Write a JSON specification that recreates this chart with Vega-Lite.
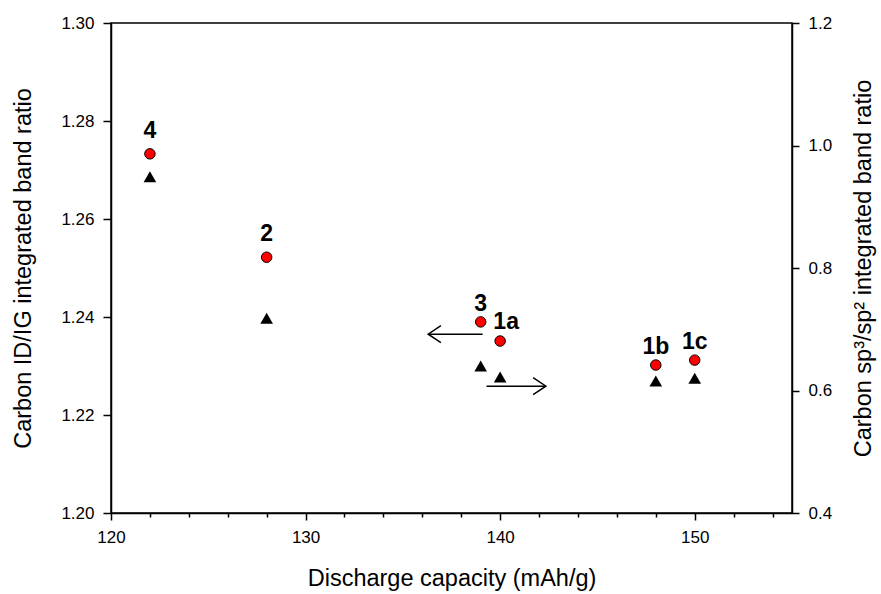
{
  "$schema": "https://vega.github.io/schema/vega-lite/v6.json",
  "width": 681,
  "height": 490,
  "autosize": {"type": "none"},
  "padding": {"left": 111, "top": 23, "right": 89, "bottom": 81},
  "datasets": {
    "samples": [
      {"sample": "4", "capacity": 122, "id_ig": 1.2733, "sp3_sp2": 0.949},
      {"sample": "2", "capacity": 128, "id_ig": 1.2522, "sp3_sp2": 0.718},
      {"sample": "3", "capacity": 139, "id_ig": 1.239, "sp3_sp2": 0.640},
      {"sample": "1a", "capacity": 140, "id_ig": 1.2351, "sp3_sp2": 0.622},
      {"sample": "1b", "capacity": 148, "id_ig": 1.2302, "sp3_sp2": 0.6155},
      {"sample": "1c", "capacity": 150, "id_ig": 1.2312, "sp3_sp2": 0.620}
    ],
    "arrows": [
      {"series": "ID/IG", "start": 139.1, "end": 136.3, "value": 1.2365},
      {"series": "sp3/sp2", "start": 139.3, "end": 142.35, "value": 0.607}
    ]
  },
  "config": {
    "font": "Liberation Sans",
    "view": {"stroke": "black", "strokeWidth": 1.5},
    "axis": {
      "grid": false,
      "domainColor": "black",
      "domainWidth": 1.5,
      "tickColor": "black",
      "tickWidth": 1.5,
      "labelColor": "black",
      "titleColor": "black",
      "labelFont": "Liberation Sans",
      "titleFont": "Liberation Sans",
      "labelFontSize": 17,
      "titleFontSize": 23.5,
      "titleFontWeight": "normal"
    }
  },
  "layer": [
    {
      "layer": [
        {
          "data": {"name": "samples"},
          "mark": {"type": "point", "shape": "circle", "filled": true, "fill": "#ff0000", "stroke": "black", "strokeWidth": 1, "size": 110, "opacity": 1},
          "encoding": {
            "x": {
              "field": "capacity", "type": "quantitative",
              "scale": {"domain": [120, 155], "nice": false, "zero": false},
              "axis": {
                "title": "Discharge capacity (mAh/g)",
                "values": [120,121,122,123,124,125,126,127,128,129,130,131,132,133,134,135,136,137,138,139,140,141,142,143,144,145,146,147,148,149,150,151,152,153,154,155],
                "labelExpr": "datum.value % 10 === 0 ? datum.label : ''",
                "labelOverlap": false,
                "labelFlush": false,
                "tickSize": {"condition": {"test": "datum.value % 10 === 0", "value": 7}, "value": 4},
                "labelPadding": 9,
                "titlePadding": 21
              }
            },
            "y": {
              "field": "id_ig", "type": "quantitative",
              "scale": {"domain": [1.2, 1.3], "nice": false, "zero": false},
              "axis": {
                "orient": "left",
                "title": "Carbon ID/IG integrated band ratio",
                "values": [1.2, 1.22, 1.24, 1.26, 1.28, 1.3],
                "format": ".2f",
                "tickSize": 8,
                "labelPadding": 9,
                "titlePadding": 25
              }
            }
          }
        },
        {
          "data": {"name": "samples"},
          "transform": [{"filter": "datum.sample === '4' || datum.sample === '2'"}],
          "mark": {"type": "text", "fontSize": 23, "fontWeight": "bold", "baseline": "alphabetic", "dy": -16, "color": "black"},
          "encoding": {
            "x": {"field": "capacity", "type": "quantitative"},
            "y": {"field": "id_ig", "type": "quantitative"},
            "text": {"field": "sample"}
          }
        },
        {
          "data": {"name": "samples"},
          "transform": [{"filter": "datum.sample === '3' || datum.sample === '1b' || datum.sample === '1c'"}],
          "mark": {"type": "text", "fontSize": 23, "fontWeight": "bold", "baseline": "alphabetic", "dy": -11, "color": "black"},
          "encoding": {
            "x": {"field": "capacity", "type": "quantitative"},
            "y": {"field": "id_ig", "type": "quantitative"},
            "text": {"field": "sample"}
          }
        },
        {
          "data": {"name": "samples"},
          "transform": [{"filter": "datum.sample === '1a'"}],
          "mark": {"type": "text", "fontSize": 23, "fontWeight": "bold", "baseline": "alphabetic", "dy": -12, "dx": 6, "color": "black"},
          "encoding": {
            "x": {"field": "capacity", "type": "quantitative"},
            "y": {"field": "id_ig", "type": "quantitative"},
            "text": {"field": "sample"}
          }
        },
        {
          "data": {"name": "arrows"},
          "transform": [{"filter": "datum.series === 'ID/IG'"}],
          "mark": {"type": "rule", "color": "black", "strokeWidth": 1.5},
          "encoding": {
            "x": {"field": "start", "type": "quantitative"},
            "x2": {"field": "end"},
            "y": {"field": "value", "type": "quantitative"}
          }
        },
        {
          "data": {"name": "arrows"},
          "transform": [{"filter": "datum.series === 'ID/IG'"}],
          "mark": {"type": "point", "shape": "M1.5,-1L0,0L1.5,1", "filled": false, "stroke": "black", "strokeWidth": 1.5, "size": 289, "opacity": 1},
          "encoding": {
            "x": {"field": "end", "type": "quantitative"},
            "y": {"field": "value", "type": "quantitative"}
          }
        }
      ]
    },
    {
      "layer": [
        {
          "data": {"name": "samples"},
          "mark": {"type": "point", "shape": "triangle-up", "filled": true, "color": "black", "size": 160, "opacity": 1},
          "encoding": {
            "x": {"field": "capacity", "type": "quantitative"},
            "y": {
              "field": "sp3_sp2", "type": "quantitative",
              "scale": {"domain": [0.4, 1.2], "nice": false, "zero": false},
              "axis": {
                "orient": "right",
                "title": "Carbon sp³/sp² integrated band ratio",
                "values": [0.4, 0.6, 0.8, 1.0, 1.2],
                "format": ".1f",
                "tickSize": 7,
                "labelPadding": 9,
                "titleAngle": -90,
                "titleBaseline": "top",
                "titlePadding": 20
              }
            }
          }
        },
        {
          "data": {"name": "arrows"},
          "transform": [{"filter": "datum.series === 'sp3/sp2'"}],
          "mark": {"type": "rule", "color": "black", "strokeWidth": 1.5},
          "encoding": {
            "x": {"field": "start", "type": "quantitative"},
            "x2": {"field": "end"},
            "y": {"field": "value", "type": "quantitative"}
          }
        },
        {
          "data": {"name": "arrows"},
          "transform": [{"filter": "datum.series === 'sp3/sp2'"}],
          "mark": {"type": "point", "shape": "M-1.5,-1L0,0L-1.5,1", "filled": false, "stroke": "black", "strokeWidth": 1.5, "size": 289, "opacity": 1},
          "encoding": {
            "x": {"field": "end", "type": "quantitative"},
            "y": {"field": "value", "type": "quantitative"}
          }
        }
      ]
    }
  ],
  "resolve": {"scale": {"y": "independent"}}
}
